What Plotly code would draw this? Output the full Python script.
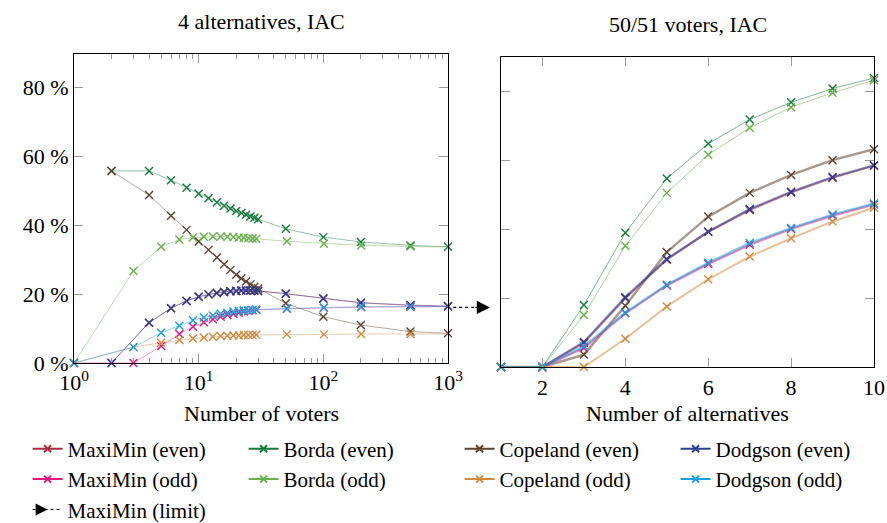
import plotly.graph_objects as go

# ---------------- data ----------------
voters_even = [2, 4, 6, 8, 10, 12, 14, 16, 18, 20, 22, 24, 26, 28, 30, 50, 100, 200, 500, 1000]
voters_odd = [1, 3, 5, 7, 9, 11, 13, 15, 17, 19, 21, 23, 25, 27, 29, 51, 101, 201, 501, 1001]

maximin_even_v = [0, 11.7, 15.9, 18.0, 19.2, 19.9, 20.3, 20.6, 20.8, 20.9, 21.0, 21.0, 21.0, 21.0, 20.9, 20.1, 18.7, 17.4, 16.7, 16.4]
borda_even_v = [55.7, 55.7, 53.0, 50.8, 49.1, 47.8, 46.6, 45.6, 44.8, 44.1, 43.5, 43.0, 42.5, 42.1, 41.7, 38.9, 36.5, 35.1, 34.1, 33.7]
copeland_even_v = [55.7, 48.7, 42.7, 38.6, 35.2, 32.8, 30.6, 28.6, 27.0, 25.6, 24.5, 23.6, 22.8, 22.1, 21.6, 17.3, 13.4, 11.0, 9.1, 8.6]
dodgson_even_v = [0, 11.7, 15.9, 18.0, 19.2, 19.9, 20.3, 20.6, 20.8, 20.9, 21.0, 21.0, 21.0, 21.0, 20.9, 20.1, 18.7, 17.5, 16.8, 16.5]

maximin_odd_v = [0, 0, 4.9, 8.4, 10.5, 11.8, 12.7, 13.4, 13.9, 14.3, 14.6, 14.9, 15.1, 15.3, 15.4, 15.7, 16.0, 16.2, 16.3, 16.3]
borda_odd_v = [0, 26.7, 33.7, 35.8, 36.4, 36.6, 36.7, 36.7, 36.6, 36.5, 36.4, 36.3, 36.2, 36.1, 36.0, 35.3, 34.6, 34.1, 33.8, 33.6]
copeland_odd_v = [0, 4.6, 5.9, 6.7, 7.1, 7.4, 7.6, 7.8, 7.9, 8.0, 8.0, 8.1, 8.1, 8.1, 8.2, 8.3, 8.3, 8.4, 8.4, 8.4]
dodgson_odd_v = [0, 4.6, 8.8, 10.8, 12.4, 13.2, 13.8, 14.3, 14.6, 14.9, 15.1, 15.2, 15.3, 15.4, 15.5, 15.8, 16.1, 16.3, 16.3, 16.4]

maximin_limit = 16.1

alternatives = [1, 2, 3, 4, 5, 6, 7, 8, 9, 10]
maximin_even_a = [0, 0, 7.0, 20.0, 31.2, 39.3, 45.6, 50.7, 55.0, 58.5]
borda_even_a = [0, 0, 18.0, 39.0, 54.8, 64.9, 71.9, 76.9, 80.9, 84.0]
copeland_even_a = [0, 0, 3.6, 17.8, 33.4, 43.7, 50.6, 55.8, 60.1, 63.3]
dodgson_even_a = [0, 0, 7.3, 20.3, 31.4, 39.3, 45.9, 50.9, 55.2, 58.6]
maximin_odd_a = [0, 0, 5.5, 15.6, 23.7, 29.9, 35.5, 40.1, 44.0, 47.2]
borda_odd_a = [0, 0, 15.1, 35.2, 50.6, 61.7, 69.5, 75.5, 79.7, 83.3]
copeland_odd_a = [0, 0, 0, 8.2, 17.6, 25.5, 32.1, 37.4, 42.3, 46.3]
dodgson_odd_a = [0, 0, 6.0, 15.8, 23.9, 30.3, 36.0, 40.4, 44.3, 47.5]

x_tickvals = [1, 10, 100, 1000]
x_ticktext = ["10<sup>0</sup>", "10<sup>1</sup>", "10<sup>2</sup>", "10<sup>3</sup>"]
x_minor = [2, 3, 4, 5, 6, 7, 8, 9, 20, 30, 40, 50, 60, 70, 80, 90, 200, 300, 400, 500, 600, 700, 800, 900]
y_tickvals = [0, 20, 40, 60, 80]
y_ticktext = ["0 %", "20 %", "40 %", "60 %", "80 %"]
alt_tickvals = [2, 4, 6, 8, 10]

# ---------------- styling ----------------
FONT = "Liberation Serif"
colors = {
    "MaxiMin (even)": (168, 42, 69),
    "Borda (even)": (22, 122, 62),
    "Copeland (even)": (92, 67, 48),
    "Dodgson (even)": (42, 63, 143),
    "MaxiMin (odd)": (230, 25, 122),
    "Borda (odd)": (106, 176, 76),
    "Copeland (odd)": (208, 138, 64),
    "Dodgson (odd)": (24, 160, 224),
}

def rgba(c, a):
    return f"rgba({c[0]},{c[1]},{c[2]},{a})"

series = [
    ("MaxiMin (even)", voters_even, maximin_even_v, maximin_even_a, 2.2),
    ("Borda (even)", voters_even, borda_even_v, borda_even_a, 1.0),
    ("Copeland (even)", voters_even, copeland_even_v, copeland_even_a, 2.4),
    ("Dodgson (even)", voters_even, dodgson_even_v, dodgson_even_a, 2.2),
    ("MaxiMin (odd)", voters_odd, maximin_odd_v, maximin_odd_a, 2.2),
    ("Borda (odd)", voters_odd, borda_odd_v, borda_odd_a, 1.0),
    ("Copeland (odd)", voters_odd, copeland_odd_v, copeland_odd_a, 2.0),
    ("Dodgson (odd)", voters_odd, dodgson_odd_v, dodgson_odd_a, 2.2),
]

fig = go.Figure()
for name, xv, yv, ya, w2 in series:
    c = colors[name]
    marker = dict(symbol="x-thin", size=8, line=dict(width=1.4, color=rgba(c, 1)), color=rgba(c, 1))
    fig.add_trace(go.Scatter(
        x=xv, y=yv, name=name, mode="lines+markers",
        line=dict(color=rgba(c, 0.45), width=1.0),
        marker=marker, cliponaxis=False, xaxis="x", yaxis="y",
        showlegend=False, legendgroup=name,
    ))
    fig.add_trace(go.Scatter(
        x=alternatives, y=ya, name=name, mode="lines+markers",
        line=dict(color=rgba(c, 0.55), width=w2),
        marker=marker, cliponaxis=False, xaxis="x2", yaxis="y2",
        showlegend=False, legendgroup=name,
    ))
    # legend entry
    fig.add_trace(go.Scatter(
        x=[None], y=[None], name=name, mode="lines+markers",
        line=dict(color=rgba(c, 1), width=2),
        marker=dict(symbol="x-thin", size=7, line=dict(width=2, color=rgba(c, 1))),
        xaxis="x", yaxis="y", showlegend=True, legendgroup=name,
    ))

fig.add_trace(go.Scatter(
    x=[None], y=[None], name="MaxiMin (limit)", mode="lines+markers",
    line=dict(color="black", width=1, dash="dot"),
    marker=dict(symbol="arrow-right", size=12, color="black"),
    xaxis="x", yaxis="y", showlegend=True,
))

# limit arrow between the panels
fig.add_shape(type="line", xref="paper", yref="y", x0=0.474, x1=0.503,
              y0=maximin_limit, y1=maximin_limit,
              line=dict(color="black", width=1.3, dash="dot"))
fig.add_annotation(xref="paper", yref="y", x=0.52, y=maximin_limit, text="",
                   showarrow=True, ax=-16, ay=0, arrowhead=2, arrowsize=2.2,
                   arrowwidth=1.2, arrowcolor="black")

tick_gray = "#9a9a9a"
common_axis = dict(showline=True, linecolor="black", linewidth=1.2, mirror="ticks",
                   ticks="inside", tickcolor=tick_gray, tickwidth=1.3, ticklen=9,
                   showgrid=False, zeroline=False, automargin=False,
                   tickfont=dict(family=FONT, size=22, color="black"))

fig.update_layout(
    width=887, height=523,
    margin=dict(l=74, r=13, t=54, b=156, autoexpand=False),
    paper_bgcolor="white", plot_bgcolor="white",
    font=dict(family=FONT, size=22, color="black"),
    xaxis=dict(type="log", range=[0, 3], domain=[0, 0.4675], anchor="y",
               tickvals=x_tickvals, ticktext=x_ticktext,
               minor=dict(tickvals=x_minor, ticks="inside", ticklen=5,
                          tickcolor=tick_gray, tickwidth=1.2),
               **common_axis),
    yaxis=dict(range=[0, 89.6], domain=[0.0128, 1], anchor="x",
               tickvals=y_tickvals, ticktext=y_ticktext, **common_axis),
    xaxis2=dict(range=[1, 10], domain=[0.53375, 1], anchor="y2",
                tickvals=alt_tickvals, **common_axis),
    yaxis2=dict(range=[0, 90], domain=[0, 0.9895], anchor="x2",
                tickvals=y_tickvals, showticklabels=False, **common_axis),
    legend=dict(orientation="h", x=-0.058, y=-0.197, xanchor="left", yanchor="top",
                entrywidth=171, entrywidthmode="pixels", traceorder="normal",
                font=dict(family=FONT, size=21, color="black"),
                bgcolor="rgba(0,0,0,0)", itemclick=False),
    showlegend=True,
)

# titles
left_c = 0.4675 / 2
right_c = (0.53375 + 1) / 2
for txt, xc, yc in [("4 alternatives, IAC", left_c, 1.105),
                    ("50/51 voters, IAC", right_c, 1.095),
                    ("Number of voters", left_c, -0.148),
                    ("Number of alternatives", right_c, -0.148)]:
    fig.add_annotation(text=txt, xref="paper", yref="paper", x=xc, y=yc,
                       xanchor="center", yanchor="middle", showarrow=False,
                       font=dict(family=FONT, size=22))

fig.write_html("out.html", config={"displayModeBar": False},
               post_script="document.body.style.margin='0';")
